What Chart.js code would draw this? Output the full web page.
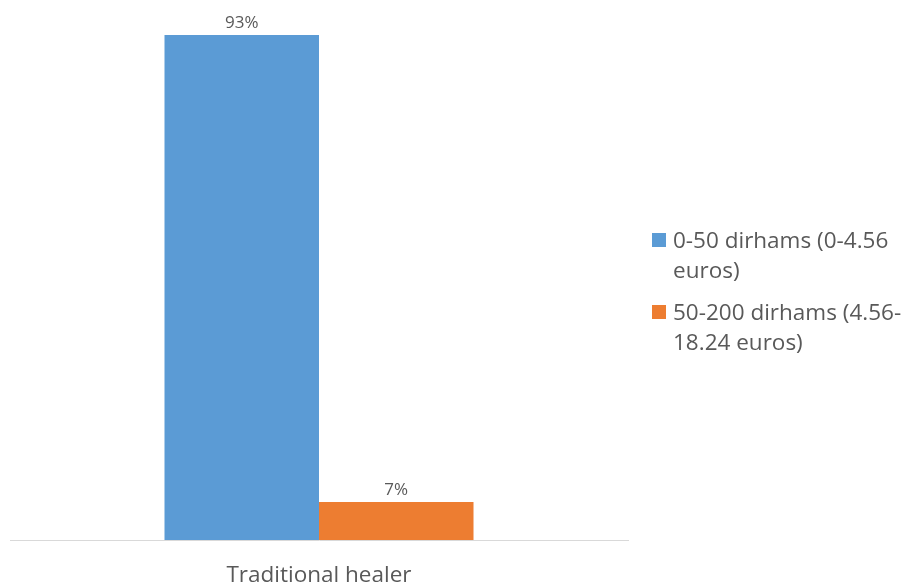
<!DOCTYPE html>
<html>
<head>
<meta charset="utf-8">
<script src="https://cdn.jsdelivr.net/npm/chart.js@4"></script>
<style>
  html, body { margin: 0; padding: 0; background: #fff; }
  #wrap { position: relative; width: 917px; height: 585px; }
  #legend { position: absolute; left: 652px; top: 225px; font-family: "Open Sans", sans-serif; font-size: 22.5px; color: #595959; line-height: 29.5px; }
  #legend .item { display: flex; align-items: flex-start; margin-bottom: 13px; width: 262px; }
  #legend .box { width: 14px; height: 14px; margin: 8px 7px 0 0; flex: none; }
</style>
</head>
<body>
<div id="wrap">
  <canvas id="chart" width="917" height="585"></canvas>
  <div id="legend"></div>
</div>
<script>
const categories = ['Traditional healer'];
const seriesNames = ['0-50 dirhams (0-4.56 euros)', '50-200 dirhams (4.56-18.24 euros)'];
const lowFee = [93];
const highFee = [7];
const colors = ['#5B9BD5', '#ED7D31'];

// writes the value above each bar
const valueLabels = {
    id: 'valueLabels',
    afterDatasetsDraw(chart) {
        const ctx = chart.ctx;
        ctx.save();
        ctx.font = '17px "Open Sans", sans-serif';
        ctx.fillStyle = '#595959';
        ctx.textAlign = 'center';
        ctx.textBaseline = 'bottom';
        chart.data.datasets.forEach((ds, i) => {
            chart.getDatasetMeta(i).data.forEach((bar, j) => {
                ctx.fillText(ds.data[j] + '%', bar.x, bar.y - 3);
            });
        });
        ctx.restore();
    }
};

const chart = new Chart(document.getElementById('chart'), {
    type: 'bar',
    data: {
        labels: categories,
        datasets: [
            { label: seriesNames[0], data: lowFee, backgroundColor: colors[0] },
            { label: seriesNames[1], data: highFee, backgroundColor: colors[1] }
        ]
    },
    options: {
        responsive: false,
        animation: false,
        layout: { padding: { left: 10, right: 289, top: 0, bottom: 0 } },
        datasets: { bar: { categoryPercentage: 0.5, barPercentage: 1 } },
        plugins: { legend: { display: false }, tooltip: { enabled: false } },
        scales: {
            x: {
                grid: { display: false, drawTicks: false },
                border: { display: true, color: '#d9d9d9', width: 1 },
                ticks: { color: '#595959', font: { family: '"Open Sans", sans-serif', size: 22.5 }, padding: 22 },
                afterFit(scale) { scale.height = 45; }
            },
            y: {
                display: false,
                min: 0,
                max: 99.44
            }
        }
    },
    plugins: [valueLabels]
});

// legend built from the datasets, wrapped like the original
const legend = document.getElementById('legend');
chart.data.datasets.forEach(ds => {
    const item = document.createElement('div');
    item.className = 'item';
    const box = document.createElement('span');
    box.className = 'box';
    box.style.background = ds.backgroundColor;
    const text = document.createElement('span');
    text.textContent = ds.label;
    item.appendChild(box);
    item.appendChild(text);
    legend.appendChild(item);
});
</script>
</body>
</html>
